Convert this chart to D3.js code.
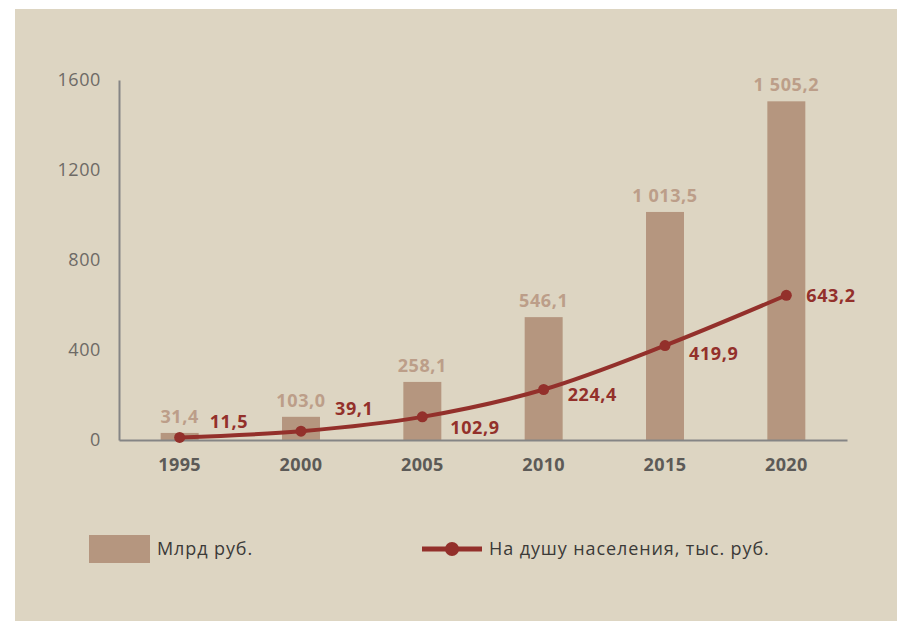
<!DOCTYPE html>
<html>
<head>
<meta charset="utf-8">
<script src="https://cdn.jsdelivr.net/npm/d3@7"></script>
<style>
    body { margin: 0; background: #ffffff; }
    svg text { font-family: "Open Sans", "Noto Sans", sans-serif; }
</style>
</head>
<body>
<div id="chart"></div>
<script>
// data
var years = ["1995", "2000", "2005", "2010", "2015", "2020"];
var totalBln = [31.4, 103.0, 258.1, 546.1, 1013.5, 1505.2];
var perCapita = [11.5, 39.1, 102.9, 224.4, 419.9, 643.2];
var yTicks = [0, 400, 800, 1200, 1600];
var legendLabels = ["Млрд руб.", "На душу населения, тыс. руб."];

// label nudges for the line values (layout only)
var lineLabelShift = [[30, -14], [34, -21], [28, 12], [24, 7], [24, 10], [20, 2]];

var width = 900, height = 622;
var margin = { top: 80, right: 53, bottom: 182, left: 119 };
var plot = { width: width - margin.left - margin.right, height: height - margin.top - margin.bottom };

var fmt = function (v) {
    // russian style: space thousands, comma decimal
    var s = v.toFixed(1).replace(".", ",");
    var parts = s.split(",");
    parts[0] = parts[0].replace(/\B(?=(\d{3})+(?!\d))/g, " ");
    return parts.join(",");
};

var svg = d3.select("#chart")
    .append("svg")
    .attr("width", width)
    .attr("height", height);

// beige panel
svg.append("rect")
    .attr("x", 15)
    .attr("y", 9)
    .attr("width", 882)
    .attr("height", 612)
    .attr("fill", "#ddd5c2");

var g = svg.append("g")
    .attr("transform", "translate(" + margin.left + "," + margin.top + ")");

var x = d3.scaleBand()
    .domain(years)
    .range([0, plot.width])
    .paddingInner(0.687)
    .paddingOuter(0.3435);

var y = d3.scaleLinear()
    .domain([0, 1600])
    .range([plot.height, 0]);

// y axis
var yAxis = g.append("g")
    .call(d3.axisLeft(y).tickValues(yTicks).tickSize(0).tickPadding(18).tickFormat(d3.format("d")));

yAxis.select(".domain")
    .attr("stroke", "#858585")
    .attr("stroke-width", 2);

yAxis.selectAll(".tick text")
    .attr("fill", "#6d6a66")
    .style("font-size", "18px")
    .style("letter-spacing", "0.6px")
    .style("font-family", "'Open Sans', sans-serif");

// bars
g.selectAll(".bar")
    .data(years)
    .enter()
    .append("rect")
    .attr("class", "bar")
    .attr("x", function (d) { return x(d) })
    .attr("y", function (d, i) { return y(totalBln[i]) })
    .attr("width", x.bandwidth())
    .attr("height", function (d, i) { return plot.height - y(totalBln[i]) })
    .attr("fill", "#b5967f");

g.selectAll(".barLabel")
    .data(years)
    .enter()
    .append("text")
    .attr("class", "barLabel")
    .attr("x", function (d) { return x(d) + x.bandwidth() / 2 })
    .attr("y", function (d, i) { return y(totalBln[i]) - 10 })
    .attr("text-anchor", "middle")
    .attr("fill", "#bc9e89")
    .style("font-size", "18px")
    .style("letter-spacing", "0.6px")
    .style("font-weight", "bold")
    .text(function (d, i) { return fmt(totalBln[i]) });

// x axis
var xAxis = g.append("g")
    .attr("transform", "translate(0," + plot.height + ")")
    .call(d3.axisBottom(x).tickSize(0).tickPadding(18));

xAxis.select(".domain")
    .attr("stroke", "#858585")
    .attr("stroke-width", 2);

xAxis.selectAll(".tick text")
    .attr("fill", "#5c5a57")
    .style("font-size", "18px")
    .style("letter-spacing", "0.4px")
    .style("font-weight", "bold")
    .style("font-family", "'Open Sans', sans-serif");

// line
var lineData = years.map(function (d, i) { return [d, perCapita[i]] });

g.append("path")
    .datum(lineData)
    .attr("fill", "none")
    .attr("stroke", "#93302b")
    .attr("stroke-width", 4)
    .attr("d", d3.line()
        .x(function (d) { return x(d[0]) + x.bandwidth() / 2 })
        .y(function (d) { return y(d[1]) })
        .curve(d3.curveMonotoneX)
    );

g.selectAll(".dot")
    .data(lineData)
    .enter()
    .append("circle")
    .attr("class", "dot")
    .attr("cx", function (d) { return x(d[0]) + x.bandwidth() / 2 })
    .attr("cy", function (d) { return y(d[1]) })
    .attr("r", 5.5)
    .attr("fill", "#93302b");

g.selectAll(".lineLabel")
    .data(lineData)
    .enter()
    .append("text")
    .attr("class", "lineLabel")
    .attr("x", function (d, i) { return x(d[0]) + x.bandwidth() / 2 + lineLabelShift[i][0] })
    .attr("y", function (d, i) { return y(d[1]) + lineLabelShift[i][1] })
    .attr("dominant-baseline", "middle")
    .attr("fill", "#93302b")
    .style("font-size", "18px")
    .style("letter-spacing", "0.6px")
    .style("font-weight", "bold")
    .text(function (d) { return fmt(d[1]) });

// legend
var legend = svg.append("g");

legend.append("rect")
    .attr("x", 89)
    .attr("y", 535)
    .attr("width", 61)
    .attr("height", 28)
    .attr("fill", "#b5967f");

legend.append("text")
    .attr("x", 157)
    .attr("y", 550)
    .attr("dominant-baseline", "middle")
    .attr("fill", "#3b3a38")
    .style("font-size", "18px")
    .style("letter-spacing", "0.9px")
    .text(legendLabels[0]);

legend.append("line")
    .attr("x1", 422)
    .attr("x2", 482)
    .attr("y1", 549)
    .attr("y2", 549)
    .attr("stroke", "#93302b")
    .attr("stroke-width", 5);

legend.append("circle")
    .attr("cx", 452)
    .attr("cy", 549)
    .attr("r", 7)
    .attr("fill", "#93302b");

legend.append("text")
    .attr("x", 489)
    .attr("y", 550)
    .attr("dominant-baseline", "middle")
    .attr("fill", "#3b3a38")
    .style("font-size", "18px")
    .style("letter-spacing", "0.9px")
    .text(legendLabels[1]);
</script>
</body>
</html>
